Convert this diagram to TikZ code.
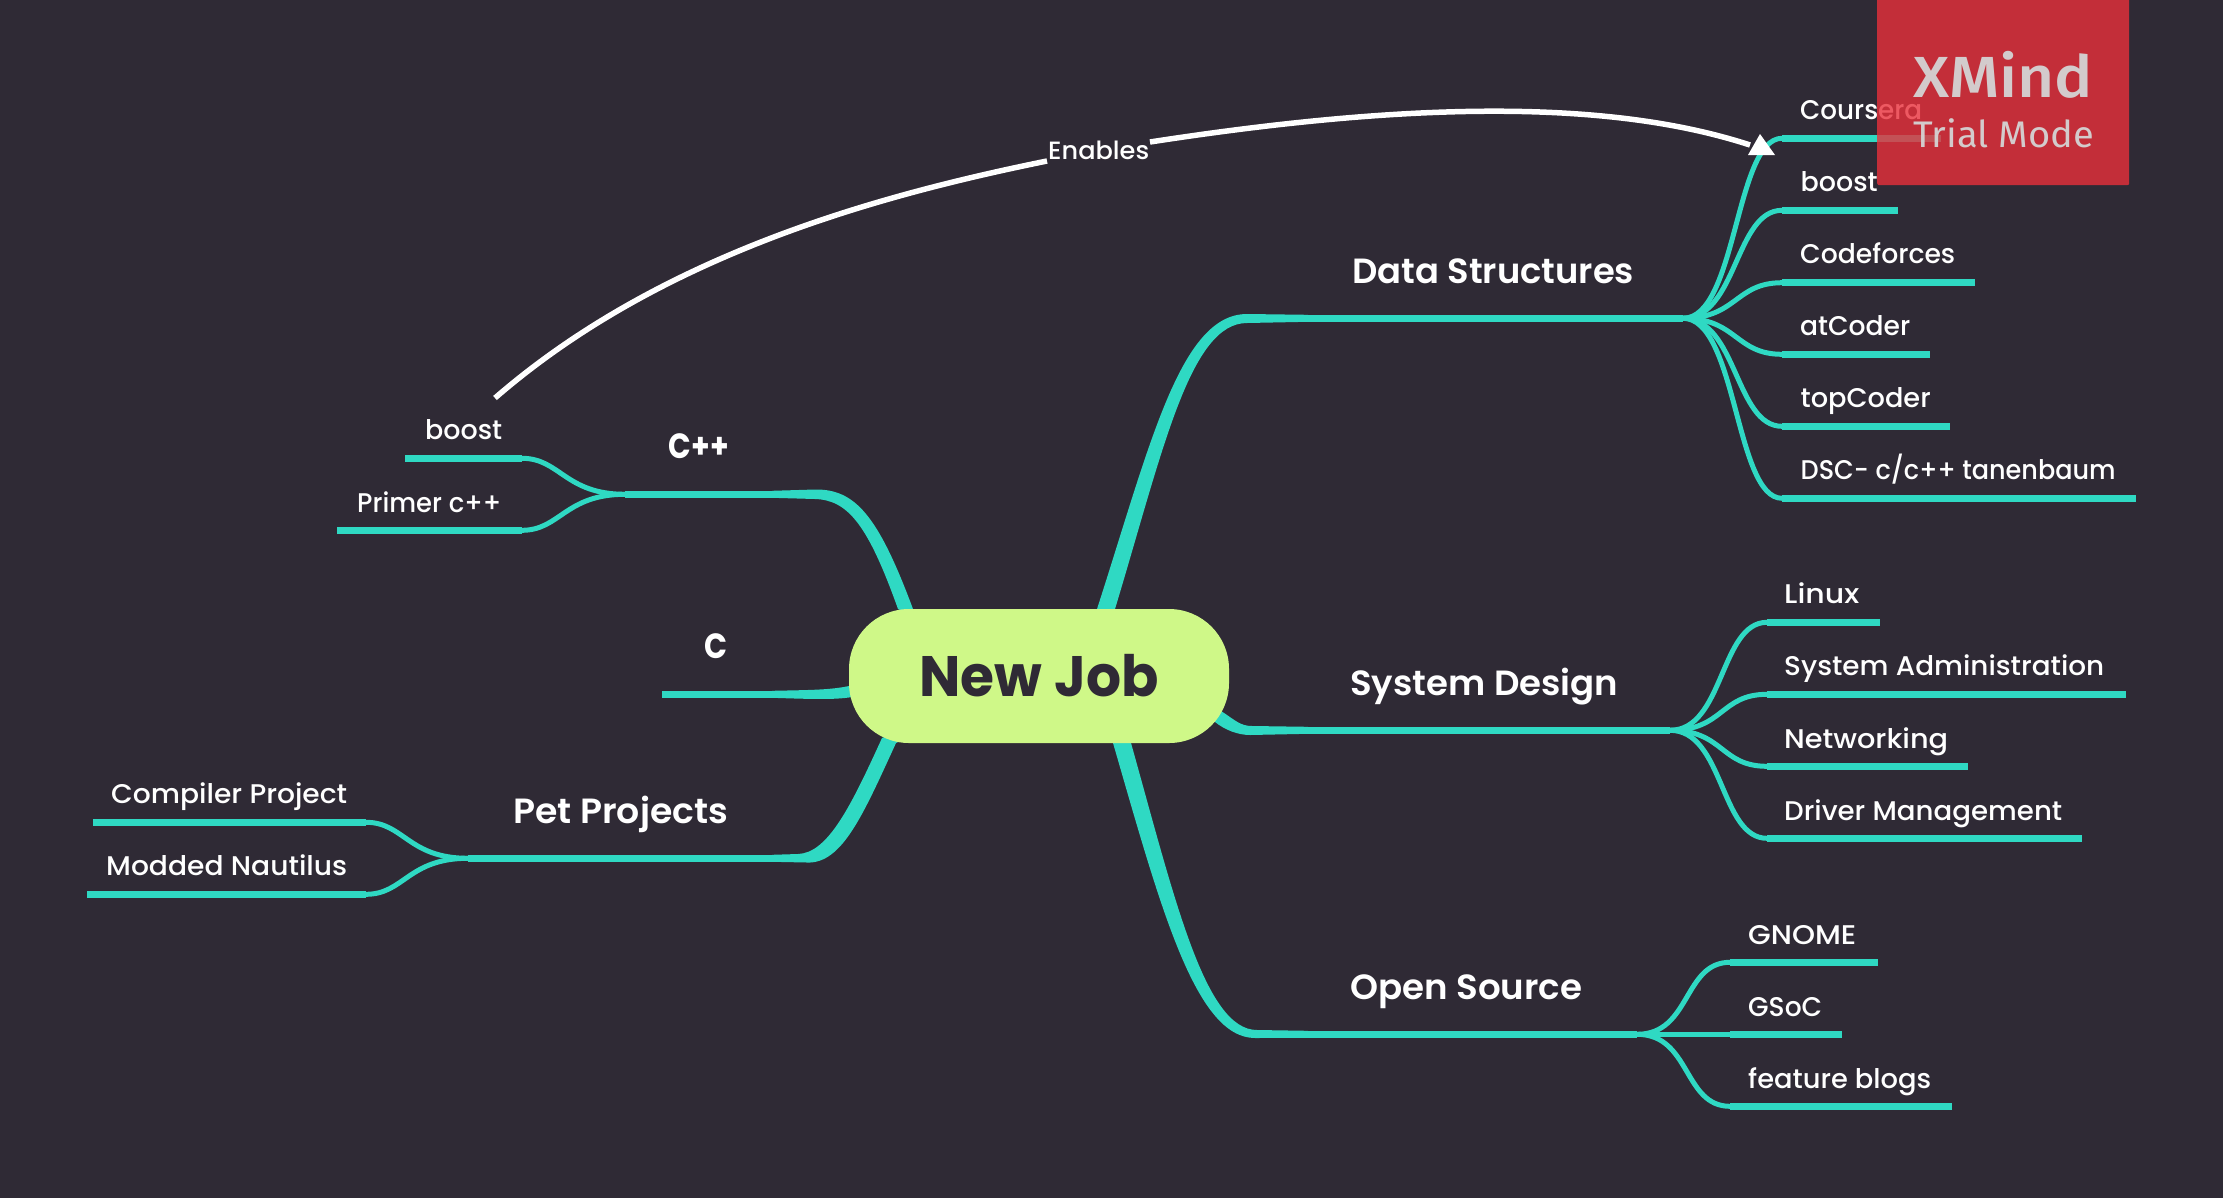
\documentclass[tikz,border=0pt]{standalone}
\usepackage{graphicx}
\usepackage{fontspec}
\setmainfont{Poppins}
\newfontfamily\leaffont{Poppins Medium}
\newfontfamily\mainfont{Poppins SemiBold}
\newfontfamily\wmfont{Fira Sans Medium}
\newfontfamily\wmlight{Fira Sans}
\definecolor{bgc}{RGB}{47,42,53}
\definecolor{tealc}{RGB}{47,217,195}
\definecolor{limec}{RGB}{207,248,136}
\definecolor{redc}{RGB}{233,48,59}
\definecolor{wmgray}{RGB}{212,212,212}
\pgfdeclarelayer{top}
\pgfsetlayers{main,top}
\newcommand{\fitw}[2]{\resizebox{#1pt}{\height}{#2}}
\tikzset{
  twig/.style={draw=tealc,line width=5pt},
  stem/.style={draw=tealc,line width=7pt},
  trunk/.style={fill=tealc,draw=none},
  leaftext/.style={text=white,inner sep=0pt,anchor=base west,font=\leaffont\fontsize{27}{32}\selectfont},
  maintext/.style={text=white,inner sep=0pt,anchor=base west,font=\mainfont\fontsize{35}{42}\selectfont},
  shorttext/.style={text=white,inner sep=0pt,anchor=base west,font=\bfseries\fontsize{35}{42}\selectfont},
  hubbox/.style={fill=limec,rounded corners=60pt,minimum width=380pt,minimum height=134pt,inner sep=0pt,text=bgc,font=\bfseries\fontsize{57}{66}\selectfont},
  wmbox/.style={fill=redc,fill opacity=0.8,rounded corners=2pt,minimum width=252pt,minimum height=195pt,inner sep=0pt,anchor=north west},
  wmtext/.style={text=wmgray,text opacity=0.95,inner sep=0pt,anchor=base west},
  relation/.style={draw=white,line width=5.5pt},
}
% name, origin, xstart, xend, y, textx, baseline, textwidth, text
\newcommand{\leafR}[9]{%
  \coordinate (#1s) at (#3,#5);
  \coordinate (#1e) at (#4,#5);
  \draw[twig] (#2) .. controls +(54,0) and +(-47,0) .. (#1s);
  \draw[stem] (#1s) -- (#1e);
  \node[leaftext] (#1) at (#6,#7) {\fitw{#8}{#9}};
}
\newcommand{\leafL}[9]{%
  \coordinate (#1s) at (#3,#5);
  \coordinate (#1e) at (#4,#5);
  \draw[twig] (#2) .. controls +(-60,0) and +(38,0) .. (#1s);
  \draw[stem] (#1s) -- (#1e);
  \node[leaftext] (#1) at (#6,#7) {\fitw{#8}{#9}};
}
\begin{document}
\begin{tikzpicture}[x=1pt,y=-1pt]
\useasboundingbox (0,0) rectangle (2223,1197);
\fill[bgc] (-10,-10) rectangle (2233,1207);

\begin{pgfonlayer}{top}
  \node[hubbox] (hub) at (1039,676) {\fitw{239}{New Job}};
\end{pgfonlayer}

% Data Structures
\coordinate (dsIn) at (1308,318.3);
\coordinate (dsOut) at (1683,318.3);
\fill[trunk] (hub.center) -- (1097,609) .. controls (1150,445) and (1180,314) .. (1247,314) -- (1308,314.8) -- (1308,321.8) -- (1247,323) .. controls (1190,323) and (1163,450) .. (1115,609) -- cycle;
\draw[stem] (dsIn) -- (dsOut);
\node[maintext] (ds) at (1352,283) {\fitw{282}{Data Structures}};
\leafR{a1}{dsOut}{1782}{1941}{138.3}{1800}{119}{122}{Coursera}
\leafR{a2}{dsOut}{1782}{1898}{210.3}{1800.5}{191}{77}{boost}
\leafR{a3}{dsOut}{1782}{1975}{282.7}{1800}{263}{155}{Codeforces}
\leafR{a4}{dsOut}{1782}{1930}{354.3}{1800}{335}{110}{atCoder}
\leafR{a5}{dsOut}{1782}{1950}{426.3}{1800.5}{407}{130}{topCoder}
\leafR{a6}{dsOut}{1782}{2136}{498.3}{1800.5}{479}{315}{DSC- c/c++ tanenbaum}

% System Design
\coordinate (sdIn) at (1308,730.3);
\coordinate (sdOut) at (1670,730.3);
\fill[trunk] (hub.center) -- (1221,711) .. controls (1235,720) and (1240,726) .. (1252,726) -- (1308,726.8) -- (1308,733.8) -- (1250,735) .. controls (1238,735) and (1225,730) .. (1215,722) -- cycle;
\draw[stem] (sdIn) -- (sdOut);
\node[maintext] (sd) at (1350,695) {\fitw{268}{System Design}};
\leafR{b1}{sdOut}{1767}{1880}{622.3}{1784}{603}{75}{Linux}
\leafR{b2}{sdOut}{1767}{2126}{694.3}{1784}{675}{320}{System Administration}
\leafR{b3}{sdOut}{1767}{1968}{766.3}{1784}{748}{164}{Networking}
\leafR{b4}{sdOut}{1767}{2082}{838.3}{1784}{820}{278}{Driver Management}

% Open Source
\coordinate (osIn) at (1308,1034.3);
\coordinate (osOut) at (1637,1034.3);
\fill[trunk] (hub.center) -- (1131,743) .. controls (1175,900) and (1205,1030) .. (1257,1030) -- (1308,1030.8) -- (1308,1037.8) -- (1255,1038) .. controls (1195,1038) and (1160,905) .. (1113,743) -- cycle;
\draw[stem] (osIn) -- (osOut);
\node[maintext] (os) at (1350,999) {\fitw{232}{Open Source}};
\leafR{c1}{osOut}{1730}{1878}{962.3}{1748}{944}{108}{GNOME}
\leafR{c2}{osOut}{1730}{1842}{1034.3}{1748}{1016}{74}{GSoC}
\leafR{c3}{osOut}{1730}{1952}{1106.3}{1748}{1088}{183}{feature blogs}

% C++
\coordinate (cpIn) at (772,494.3);
\coordinate (cpOut) at (625,494.3);
\fill[trunk] (hub.center) -- (913,609) .. controls (878,515) and (855,489) .. (815,489.5) -- (772,490.8) -- (772,497.8) -- (815,499) .. controls (848,500) and (868,525) .. (898,609) -- cycle;
\draw[stem] (cpIn) -- (cpOut);
\node[shorttext] (cp) at (668.5,458) {\fitw{60}{C++}};
\leafL{d1}{cpOut}{522}{405}{458.3}{425}{439}{77}{boost}
\leafL{d2}{cpOut}{522}{337}{530.3}{357}{512}{144}{Primer c++}

% C
\coordinate (clIn) at (772,694.3);
\coordinate (clEnd) at (662,694.3);
\fill[trunk] (hub.center) -- (849,686) .. controls (830,690) and (810,690) .. (772,690.8) -- (772,697.8) .. controls (810,699) and (835,700) .. (852,697) -- cycle;
\draw[stem] (clIn) -- (clEnd);
\node[shorttext] (cl) at (704.5,658) {\fitw{23}{C}};

% Pet Projects
\coordinate (ppIn) at (772,858.3);
\coordinate (ppOut) at (468,858.3);
\fill[trunk] (hub.center) -- (896,743) .. controls (863,815) and (842,864) .. (807,862.5) -- (772,861.8) -- (772,854.8) -- (798,854) .. controls (828,853) and (851,806) .. (882,738) -- cycle;
\draw[stem] (ppIn) -- (ppOut);
\node[maintext] (pp) at (513,823) {\fitw{215}{Pet Projects}};
\leafL{e1}{ppOut}{366}{93}{822.3}{111}{803}{236}{Compiler Project}
\leafL{e2}{ppOut}{366}{87}{894.3}{106}{875}{241}{Modded Nautilus}

% relation
\coordinate (relStart) at (495,398);
\coordinate (relL) at (1047,161);
\coordinate (relR) at (1150,142);
\coordinate (relEnd) at (1750,145);
\draw[relation] (relStart) .. controls (661,254) and (880,195) .. (relL);
\draw[relation] (relR) .. controls (1390,105) and (1600,96) .. (relEnd);
\coordinate (tipA) at (1760,134);
\coordinate (tipB) at (1748,155);
\coordinate (tipC) at (1775,155);
\fill[white] (tipA) -- (tipB) -- (tipC) -- cycle;
\node[inner sep=0pt,anchor=base west,text=white,font=\leaffont\fontsize{25}{30}\selectfont] (rel) at (1048,159) {\fitw{101}{Enables}};

% watermark
\begin{pgfonlayer}{top}
  \node[wmbox] (wm) at (1877,-10) {};
  \node[wmtext,font=\wmfont\fontsize{58}{68}\selectfont] (wma) at (1913,97) {\fitw{180}{XMind}};
  \node[wmtext,font=\wmlight\fontsize{37}{44}\selectfont] (wmb) at (1913,147) {\fitw{181}{Trial Mode}};
\end{pgfonlayer}
\end{tikzpicture}
\end{document}
